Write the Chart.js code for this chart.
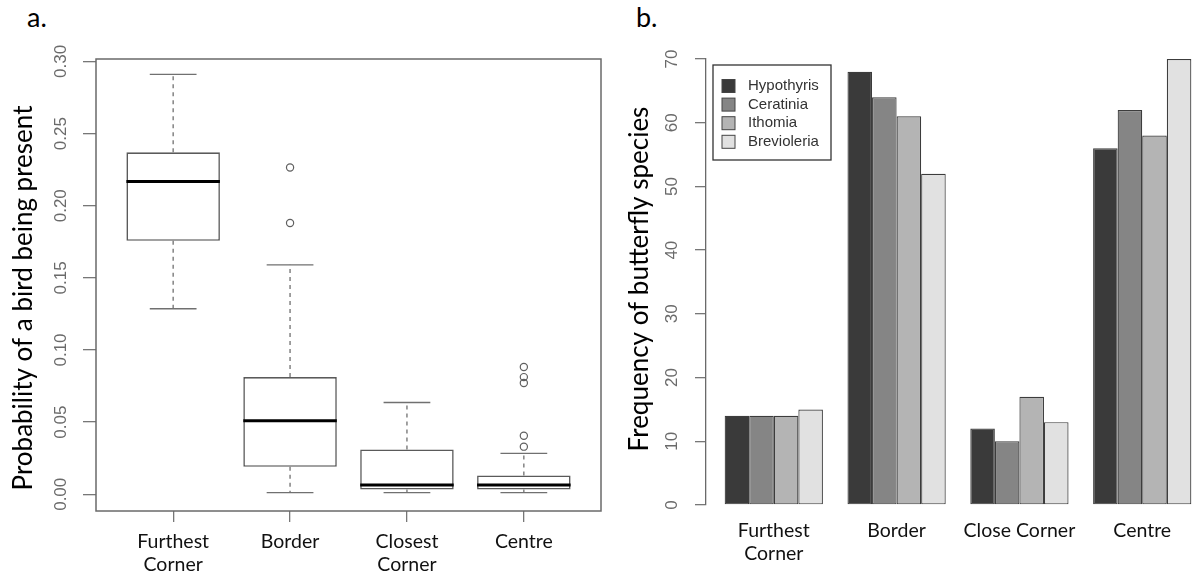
<!DOCTYPE html>
<html>
<head>
<meta charset="utf-8">
<script src="https://cdn.jsdelivr.net/npm/chart.js@4.4.1/dist/chart.umd.min.js"></script>
<style>
  html, body { margin: 0; padding: 0; background: #fff; overflow: hidden; }
  #page { position: relative; width: 1197px; height: 579px; }
  .panel { position: absolute; top: 0; height: 579px; }
  .tag { position: absolute; font-family: Lato, sans-serif; font-size: 27px; line-height: 1; color: #000; }
</style>
</head>
<body>
<div id="page">
  <div class="tag" style="left:27px; top:3px">a.</div>
  <div class="tag" style="left:636px; top:3px">b.</div>
  <div class="panel" style="left:0; width:620px"><canvas id="chartA"></canvas></div>
  <div class="panel" style="left:600px; width:597px"><canvas id="chartB"></canvas></div>
</div>
<script>
// panel a - probability of a bird being present, per site (box stats)
const boxSites    = [['Furthest', 'Corner'], ['Border'], ['Closest', 'Corner'], ['Centre']];
const whiskerLow  = [0.1286, 0.0012, 0.0012, 0.0012];
const quartile1   = [0.1757, 0.0190, 0.0033, 0.0033];
const medians     = [0.2168, 0.0510, 0.0065, 0.0065];
const quartile3   = [0.2370, 0.0812, 0.0311, 0.0130];
const whiskerHigh = [0.2910, 0.1590, 0.0636, 0.0283];
const outliers    = [[], [0.2265, 0.1880], [], [0.0882, 0.0812, 0.0771, 0.0406, 0.0330]];
const probTicks   = [0, 0.05, 0.10, 0.15, 0.20, 0.25, 0.30];

// panel b - frequency of butterfly species, per site
const barSites    = [['Furthest', 'Corner'], ['Border'], ['Close Corner'], ['Centre']];
const species     = ['Hypothyris', 'Ceratinia', 'Ithomia', 'Brevioleria'];
const hypothyris  = [14, 68, 12, 56];
const ceratinia   = [14, 64, 10, 62];
const ithomia     = [14, 61, 17, 58];
const brevioleria = [15, 52, 13, 70];
const freqTicks   = [0, 10, 20, 30, 40, 50, 60, 70];

const greys = ['#3a3a3a', '#858585', '#b4b4b4', '#e1e1e1'];
const titleFont = '26px Lato';
const tickFont = '17px "Liberation Sans"';
const legendFont = '15px "Liberation Sans"';

function rotatedText(ctx, text, x, y, font, color) {
  ctx.save();
  ctx.translate(x, y);
  ctx.rotate(-Math.PI / 2);
  ctx.font = font;
  ctx.fillStyle = color;
  ctx.textAlign = 'center';
  ctx.textBaseline = 'middle';
  ctx.fillText(text, 0, 0);
  ctx.restore();
}

// y tick labels written sideways, like R does
function sideTicks(x, fmt) {
  return {
    id: 'sideTicks',
    afterDraw(chart) {
      const y = chart.scales.y;
      y.ticks.forEach(t => {
        rotatedText(chart.ctx, fmt(t.value), x, y.getPixelForValue(t.value), tickFont, '#6a6a6a');
      });
    }
  };
}

function axisTitle(text, x, yMid) {
  return {
    id: 'axisTitle',
    afterDraw(chart) {
      rotatedText(chart.ctx, text, x, yMid, titleFont, '#000');
    }
  };
}

// whiskers, caps and medians drawn on top of the box bars
const boxParts = {
  id: 'boxParts',
  afterDatasetsDraw(chart) {
    const { ctx, scales: { x, y } } = chart;
    ctx.save();
    medians.forEach((m, i) => {
      const cx = x.getPixelForValue(i + 1);
      const capL = x.getPixelForValue(i + 0.8), capR = x.getPixelForValue(i + 1.2);
      ctx.strokeStyle = '#707070';
      ctx.lineWidth = 1.3;
      ctx.setLineDash([4, 4]);
      ctx.beginPath();
      ctx.moveTo(cx, y.getPixelForValue(quartile3[i]));
      ctx.lineTo(cx, y.getPixelForValue(whiskerHigh[i]));
      ctx.moveTo(cx, y.getPixelForValue(quartile1[i]));
      ctx.lineTo(cx, y.getPixelForValue(whiskerLow[i]));
      ctx.stroke();
      ctx.setLineDash([]);
      ctx.beginPath();
      [whiskerHigh[i], whiskerLow[i]].forEach(v => {
        const py = y.getPixelForValue(v);
        ctx.moveTo(capL, py);
        ctx.lineTo(capR, py);
      });
      ctx.stroke();
      const bl = x.getPixelForValue(i + 0.6), br = x.getPixelForValue(i + 1.4);
      const my = y.getPixelForValue(m);
      ctx.strokeStyle = '#000';
      ctx.lineWidth = 3;
      ctx.beginPath();
      ctx.moveTo(bl, my);
      ctx.lineTo(br, my);
      ctx.stroke();
    });
    ctx.restore();
  },
  afterDraw(chart) {
    const { ctx, chartArea: a } = chart;
    ctx.save();
    ctx.strokeStyle = '#6a6a6a';
    ctx.lineWidth = 1.5;
    ctx.strokeRect(a.left, a.top, a.right - a.left, a.bottom - a.top);
    ctx.restore();
  }
};

const outlierPoints = [];
outliers.forEach((list, i) => list.forEach(v => outlierPoints.push({ x: i + 1, y: v })));

new Chart(document.getElementById('chartA'), {
  type: 'bar',
  data: {
    datasets: [{
      data: quartile1.map((q, i) => ({ x: i + 1, y: [q, quartile3[i]] })),
      backgroundColor: '#fff',
      borderColor: '#5a5a5a',
      borderWidth: 1.6,
      borderSkipped: false,
      categoryPercentage: 1,
      barPercentage: 0.8
    }, {
      type: 'scatter',
      data: outlierPoints,
      pointRadius: 3.6,
      pointBorderWidth: 1.2,
      backgroundColor: 'rgba(0,0,0,0)',
      borderColor: '#606060'
    }]
  },
  options: {
    responsive: true,
    maintainAspectRatio: false,
    animation: false,
    layout: { padding: { left: 0, right: 19, top: 59, bottom: 0 } },
    plugins: { legend: { display: false }, tooltip: { enabled: false } },
    scales: {
      x: {
        type: 'linear', min: 0.34, max: 4.66, offset: false,
        afterBuildTicks: s => { s.ticks = boxSites.map((_, i) => ({ value: i + 1 })); },
        afterFit: s => { s.height = 68; },
        border: { display: false },
        grid: { display: true, offset: false, drawOnChartArea: false, drawTicks: true, tickLength: 11, color: '#777', lineWidth: 1.3 },
        ticks: {
          padding: 8, maxRotation: 0, autoSkip: false,
          color: '#111', font: { family: 'Lato', size: 19.5 },
          callback: v => boxSites[v - 1]
        }
      },
      y: {
        min: -0.0116, max: 0.3017,
        afterBuildTicks: s => { s.ticks = probTicks.map(v => ({ value: v })); },
        afterFit: s => { s.width = 96; },
        border: { display: false },
        grid: { drawOnChartArea: false, drawTicks: true, tickLength: 13, color: '#777', lineWidth: 1.3 },
        ticks: { display: false }
      }
    }
  },
  plugins: [boxParts, sideTicks(61, v => v.toFixed(2)), axisTitle('Probability of a bird being present', 24, 298)]
});

// legend box inside the plot area, as in the R figure
const legendBox = {
  id: 'legendBox',
  afterDraw(chart) {
    const { ctx, chartArea } = chart;
    const left = chartArea.left + 7, top = chartArea.top + 6;
    ctx.save();
    ctx.strokeStyle = '#333';
    ctx.lineWidth = 1.3;
    ctx.strokeRect(left, top, 118, 95);
    ctx.font = legendFont;
    ctx.textBaseline = 'middle';
    chart.data.datasets.forEach((ds, i) => {
      const cy = top + 21 + i * 18.6;
      ctx.fillStyle = ds.backgroundColor;
      ctx.fillRect(left + 9, cy - 6.5, 13, 13);
      ctx.strokeStyle = '#444';
      ctx.lineWidth = 1;
      ctx.strokeRect(left + 9, cy - 6.5, 13, 13);
      ctx.fillStyle = '#333';
      ctx.fillText(ds.label, left + 35, cy);
    });
    ctx.restore();
  }
};

const counts = [hypothyris, ceratinia, ithomia, brevioleria];

new Chart(document.getElementById('chartB'), {
  type: 'bar',
  data: {
    datasets: species.map((name, k) => ({
      label: name,
      data: counts[k].map((v, i) => ({ x: i + 1, y: v })),
      backgroundColor: greys[k],
      borderColor: '#3c3c3c',
      borderWidth: 1.2,
      borderSkipped: false,
      categoryPercentage: 0.8,
      barPercentage: 1
    }))
  },
  options: {
    responsive: true,
    maintainAspectRatio: false,
    animation: false,
    layout: { padding: { left: 0, right: 0, top: 59, bottom: 0 } },
    plugins: { legend: { display: false }, tooltip: { enabled: false } },
    scales: {
      x: {
        type: 'linear', min: 0.448, max: 4.446, offset: false,
        afterBuildTicks: s => { s.ticks = barSites.map((_, i) => ({ value: i + 1 })); },
        afterFit: s => { s.height = 74; },
        border: { display: false },
        grid: { display: false, drawTicks: false, offset: false },
        ticks: {
          padding: 14, maxRotation: 0, autoSkip: false,
          color: '#111', font: { family: 'Lato', size: 19.5 },
          callback: v => barSites[v - 1]
        }
      },
      y: {
        min: 0, max: 70,
        afterBuildTicks: s => { s.ticks = freqTicks.map(v => ({ value: v })); },
        afterFit: s => { s.width = 106; },
        border: { display: true, color: '#6a6a6a', width: 1.3 },
        grid: { drawOnChartArea: false, drawTicks: true, tickLength: 11, color: '#777', lineWidth: 1.3 },
        ticks: { display: false }
      }
    }
  },
  plugins: [legendBox, sideTicks(72, v => String(v)), axisTitle('Frequency of butterfly species', 40, 279)]
});
</script>
</body>
</html>
